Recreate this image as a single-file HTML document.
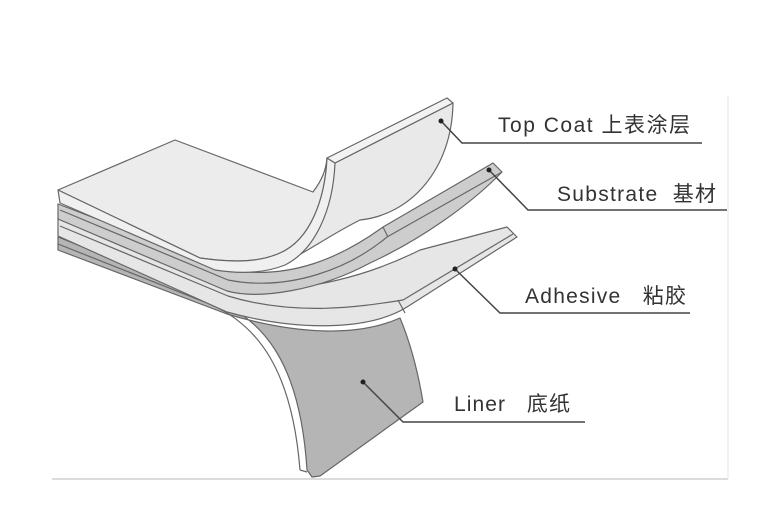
<!DOCTYPE html>
<html><head><meta charset="utf-8"><style>
html,body{margin:0;padding:0;background:#fff;}
svg{display:block;}
text{font-family:"Liberation Sans","Noto Sans CJK SC",sans-serif;fill:#333;font-size:21px;white-space:pre;}
</style></head><body>
<svg width="766" height="512" viewBox="0 0 766 512" xmlns="http://www.w3.org/2000/svg">
<g stroke="#666" stroke-width="1.2" stroke-linejoin="round">
<path d="M58,237 L210,298 C262,318 300,360 307,470 L312,477 L320,476 L423,402 C418,372 410,342 400,318 C360,336 300,336 227,314 L58,250 Z" fill="#b5b5b5"/>
<path d="M58,244 L212,305 C258,326 292,370 300,470" fill="none"/>
<path d="M300,470 L307,472" fill="none"/>
<path d="M58,218 L227,284 C300,300 380,270 420,250 L507,227 L517,237 L407,307 C370,330 300,332 227,312 L58,236 Z" fill="#e6e6e6"/>
<path d="M60,226 L228,296 C300,318 370,305 403,300 L513,234" fill="none"/>
<path d="M398,300 L405,313" fill="none"/>
<path d="M58,204 L230,270 C290,280 340,258 383,227 L493,163 L502,172 C470,205 420,240 370,263 C320,290 260,300 227,291 L58,219 Z" fill="#cdcdcd"/>
<path d="M60,210 L228,280 C290,292 350,268 387,237 L502,172" fill="none"/>
<path d="M383,227 L388,237" fill="none"/>
<path d="M58,190 L175,140 L313,192 C322,180 326,170 327,158 C325,200 310,240 280,253 C260,262 235,263 200,258 Z" fill="#ececec"/>
<path d="M453,103 C452,170 410,215 360,220 C320,240 290,265 262,270 C300,255 330,215 335,163 Z" fill="#e9e9e9"/>
<path d="M58,190 L200,258 C235,263 260,262 280,253 C310,240 325,200 327,158 L335,163 C333,210 315,250 285,265 C265,273 240,274 215,270 L60,203 Z" fill="#f0f0f0"/>
<path d="M327,158 L447,98 L453,103 L335,163 Z" fill="#f2f2f2"/>
</g>
<g stroke="#444" stroke-width="1.5" fill="none">
<polyline points="441,121 462,143 702,143"/>
<polyline points="489,170 528,210 727,210"/>
<polyline points="455,269 500,313 690,313"/>
<polyline points="363,382 403,422 585,422"/>
</g>
<g fill="#222">
<circle cx="441" cy="121" r="2.5"/><circle cx="489" cy="170" r="2.5"/>
<circle cx="455" cy="269" r="2.5"/><circle cx="363" cy="382" r="2.5"/>
</g>
<line x1="52" y1="479" x2="728" y2="479" stroke="#c8c8c8" stroke-width="1.2"/>
<line x1="728" y1="96" x2="728" y2="479" stroke="#e4e4e4" stroke-width="1"/>
<text x="498" y="132" textLength="192" lengthAdjust="spacing">Top Coat 上表涂层</text>
<text x="557" y="201" textLength="159" lengthAdjust="spacing">Substrate  基材</text>
<text x="525" y="303" textLength="161" lengthAdjust="spacing">Adhesive   粘胶</text>
<text x="454" y="411" textLength="116" lengthAdjust="spacing">Liner   底纸</text>
</svg>
</body></html>
